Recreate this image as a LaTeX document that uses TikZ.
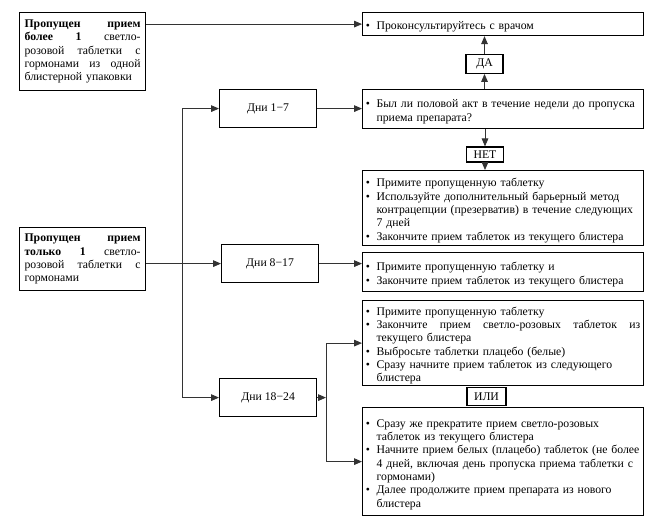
\documentclass[tikz,border=0pt]{standalone}
\usepackage{fontspec}
\setmainfont{Liberation Serif}
\usetikzlibrary{positioning,arrows.meta}

% bullet item with hanging indent
\newcommand\itm{\par\hangindent=8pt\hangafter=1\noindent\makebox[8pt][l]{\textbullet}}

\begin{document}
\begin{tikzpicture}[
  x=0.75pt, y=-0.75pt,
  font=\fontsize{8.8}{10}\selectfont,
  lbox/.style={draw, line width=0.9pt, anchor=north west, text width=87pt, inner xsep=3.75pt, inner ysep=0pt, minimum width=94.5pt, align=left},
  cbox/.style={draw, line width=0.9pt, anchor=north west, text width=205.75pt, inner xsep=2.5pt, inner ysep=0pt, minimum width=210.75pt, align=left},
  dbox/.style={draw, line width=0.9pt, anchor=north west, minimum width=72.75pt, minimum height=28.5pt, align=center},
  ans/.style={draw, line width=0.9pt, inner sep=1pt, minimum height=14pt, minimum width=27.75pt},
  arr/.style={-{Triangle[length=6pt,width=5pt]}, line width=0.6pt, draw=black!80}
]
\useasboundingbox (0,0) rectangle (660,528);

% left boxes
\node[lbox, minimum height=58.5pt] (more) at (19,12) {%
  \textbf{Пропущен\hfill прием}\newline
  \textbf{более\hfill 1}\hfill светло-\newline
  розовой\hfill таблетки\hfill с\newline
  гормонами\hfill из\hfill одной\newline
  блистерной упаковки\par};
\node[lbox, minimum height=47.25pt] (one) at (19,227) {%
  \textbf{Пропущен\hfill прием}\newline
  \textbf{только\hfill 1}\hfill светло-\newline
  розовой\hfill таблетки\hfill с\newline
  гормонами\par};

% days
\node[dbox] (d1) at (219,89) {Дни 1−7};
\node[dbox] (d2) at (221,244) {Дни 8−17};
\node[dbox] (d3) at (219,378) {Дни 18−24};

% right boxes
\node[cbox, minimum height=17.25pt] (c1) at (362,12) {\itm Проконсультируйтесь с врачом\par};
\node[cbox, minimum height=29.25pt] (c2) at (362,89) {\itm Был ли половой акт в течение недели до пропуска\newline приема препарата?\par};
\node[cbox, minimum height=56.25pt] (c3) at (362,170) {%
  \itm Примите пропущенную таблетку
  \itm Используйте дополнительный барьерный метод\newline контрацепции (презерватив) в течение следующих\newline 7 дней
  \itm Закончите прием таблеток из текущего блистера\par};
\node[cbox, minimum height=29.25pt] (c4) at (362,252) {%
  \itm Примите пропущенную таблетку и
  \itm Закончите прием таблеток из текущего блистера\par};
\node[cbox, minimum height=63.75pt] (c5) at (362,300) {%
  \itm Примите пропущенную таблетку
  \itm Закончите\hfill прием\hfill светло-розовых\hfill таблеток\hfill из\newline текущего блистера
  \itm Выбросьте таблетки плацебо (белые)
  \itm Сразу начните прием таблеток из следующего\newline блистера\par};
\node[cbox, minimum height=81pt] (c6) at (362,407) {%
  \itm Сразу же прекратите прием светло-розовых\newline таблеток из текущего блистера
  \itm \mbox{Начните прием белых (плацебо) таблеток (не более}\newline 4 дней, включая день пропуска приема таблетки с\newline гормонами)
  \itm Далее продолжите прием препарата из нового\newline блистера\par};

% answers
\node[ans] (yes) at (484.5,64) {ДА};
\node[ans, minimum height=11.25pt, inner sep=0.5pt] (no) at (485,154.5) {НЕТ};
\node[ans, minimum width=29.25pt] (or) at (486.5,396.5) {ИЛИ};

% trunk and fork
\coordinate (trunk) at (182,0);
\coordinate (fork) at (326,0);

\draw[arr] (more.east |- c1.west) -- (c1.west);
\draw[line width=0.6pt, draw=black!80] (trunk |- d1.west) -- (trunk |- d3.west);
\draw[arr] (trunk |- d1.west) -- (d1.west);
\draw[arr] (one.east |- d2.west) -- (d2.west);
\draw[arr] (trunk |- d3.west) -- (d3.west);
\draw[arr] (d1.east) -- (d1.east -| c2.west);
\draw[arr] (d2.east) -- (d2.east -| c4.west);
\draw[arr] (d3.east) -- (fork |- d3.east);
\draw[arr] (fork |- c5.west) -- (c5.west);
\draw[arr] (fork |- c5.west) -- (fork |- c6.west) -- (c6.west);
\draw[arr] (yes.south |- c2.north) -- (yes.south);
\draw[arr] (yes.north) -- (yes.north |- c1.south);
\draw[arr] (no.north |- c2.south) -- (no.north);
\draw[arr] (no.south) -- (no.south |- c3.north);
\end{tikzpicture}
\end{document}
